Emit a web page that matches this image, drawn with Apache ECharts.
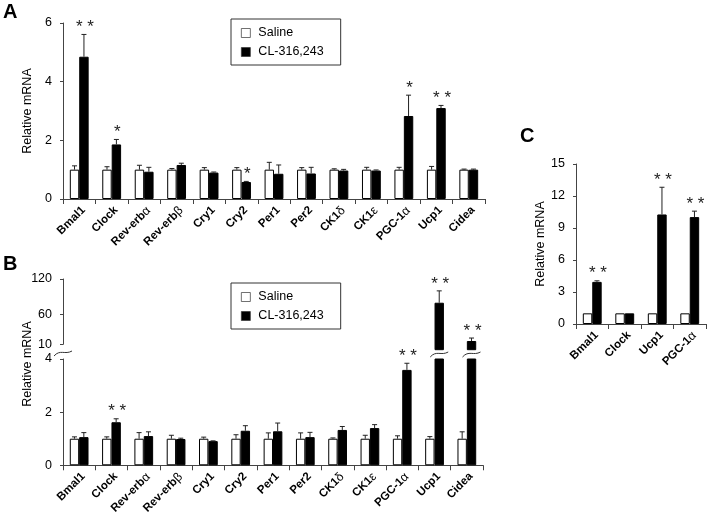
<!DOCTYPE html>
<html><head><meta charset="utf-8">
<script src="https://cdn.jsdelivr.net/npm/echarts@6/dist/echarts.min.js"></script>
<style>html,body{margin:0;padding:0;background:#fff}#c{width:711px;height:517px}</style>
</head><body><div id="c"></div>
<script>
// ---------- data ----------
const categoriesAB = ['Bmal1','Clock','Rev-erbα','Rev-erbβ','Cry1','Cry2','Per1','Per2','CK1δ','CK1ε','PGC-1α','Ucp1','Cidea'];
const seriesNames = ['Saline','CL-316,243'];

const salineA    = [1,1,1,1,1,1,1,1,1,1,1,1,1];
const salineErrA = [0.13,0.10,0.15,0.04,0.07,0.07,0.25,0.07,0.03,0.08,0.08,0.11,0.02];
const clA        = [4.85,1.86,0.93,1.16,0.90,0.58,0.86,0.87,0.97,0.97,2.83,3.10,1.00];
const clErrA     = [0.76,0.17,0.15,0.06,0.02,0.02,0.30,0.21,0.04,0.02,0.71,0.09,0.02];
const sigA       = ['**','*','','','','*','','','','','*','**',''];
const yTicksA    = {min:0, max:6, interval:2};

const salineB    = [1,1,1,1,1,1,1,1,1,1,1,1,1];
const salineErrB = [0.07,0.07,0.23,0.13,0.06,0.15,0.22,0.22,0.03,0.13,0.11,0.08,0.26];
const clB        = [1.06,1.62,1.10,0.99,0.91,1.30,1.28,1.06,1.33,1.40,3.59,80,15.5];
const clErrB     = [0.17,0.13,0.16,0.03,0.01,0.19,0.31,0.18,0.13,0.13,0.25,20,5];
const sigB       = ['','**','','','','','','','','','**','**','**'];
const yTicksBLow = {min:0, max:4, interval:2};
const yTicksBHigh = [10,60,120];
const yRangeBHigh = {min:0, max:120};

const categoriesC = ['Bmal1','Clock','Ucp1','PGC-1α'];
const salineC    = [1,1,1,1];
const salineErrC = [0,0,0,0];
const clC        = [3.95,1.00,10.27,10.02];
const clErrC     = [0.10,0,2.55,0.56];
const sigC       = ['**','','**','**'];
const yTicksC    = {min:0, max:15, interval:3};

// ---------- styling ----------
const FONT = 'Liberation Sans, Arial, sans-serif';
const AXIS_COLOR = '#444';
const GAP = 0.42;
const FS = 12.5;

function catLabel(fontSize){
  return {
    rotate:45, interval:0, margin:5, verticalAlign:'top', color:'#000', fontWeight:'bold', fontSize:fontSize, fontFamily:FONT,
    formatter: v => v.replace(/([αβδε])/g, '{g|$1}'),
    rich:{ g:{fontWeight:'normal', fontSize:fontSize+1, fontFamily:FONT, color:'#000', verticalAlign:'top'} }
  };
}
function xAxisCat(gridIndex, data, show){
  return {
    type:'category', gridIndex, data, show: show !== false,
    axisLine:{show:true, lineStyle:{color:AXIS_COLOR, width:1}},
    axisTick:{show:true, length:5, lineStyle:{color:AXIS_COLOR}},
    axisLabel: catLabel(11.5)
  };
}
function yAxisVal(gridIndex, rng, extra){
  return Object.assign({
    type:'value', gridIndex, min:rng.min, max:rng.max, interval:rng.interval,
    axisLine:{show:true, lineStyle:{color:AXIS_COLOR, width:1}},
    axisTick:{show:true, length:3, lineStyle:{color:AXIS_COLOR}},
    splitLine:{show:false},
    axisLabel:{color:'#000', fontSize:FS, margin:11, fontFamily:FONT},
    nameTextStyle:{color:'#000', fontSize:FS, fontFamily:FONT}
  }, extra || {});
}
function bars(xi, yi, sal, cl){
  return [
    {name:seriesNames[0], type:'bar', xAxisIndex:xi, yAxisIndex:yi, data:sal, barGap:0, barCategoryGap:(GAP*100)+'%',
     itemStyle:{color:'#fff', borderColor:'#000', borderWidth:1}, silent:true, clip:true},
    {name:seriesNames[1], type:'bar', xAxisIndex:xi, yAxisIndex:yi, data:cl, barGap:0, barCategoryGap:(GAP*100)+'%',
     itemStyle:{color:'#000', borderColor:'#000', borderWidth:1}, silent:true, clip:true}
  ];
}
function errSeries(xi, yi, m0, e0, m1, e1, sig, keep){
  const data = m0.map((m,i)=>[i, m, e0[i], m1[i], e1[i]]);
  return {
    type:'custom', xAxisIndex:xi, yAxisIndex:yi, silent:true, z:5, data,
    encode:{x:0, y:1},
    renderItem(params, api){
      const i = api.value(0);
      const bandW = api.size([1,0])[0];
      const bw = bandW*(1-GAP)/2;
      const cx = api.coord([i,0])[0];
      const children = [];
      [[1,2,-1],[3,4,1]].forEach(([mi,ei,side],k)=>{
        const m = api.value(mi), e = api.value(ei);
        if(!keep(m)) return;
        const x = cx + side*bw/2;
        const y0 = api.coord([i,m])[1], y1 = api.coord([i,m+e])[1];
        if(e>0){
          children.push({type:'line', shape:{x1:x,y1:y0,x2:x,y2:y1}, style:{stroke:'#222', lineWidth:1}});
          children.push({type:'line', shape:{x1:x-2.5,y1:y1,x2:x+2.5,y2:y1}, style:{stroke:'#222', lineWidth:1}});
        }
        if(k===1 && sig[i]){
          children.push({type:'text', x:x+1, y:y1-7, style:{text:sig[i].split('').join(' '), align:'center', verticalAlign:'middle',
            textAlign:'center', textVerticalAlign:'middle', font:'17px '+FONT, fill:'#222'}});
        }
      });
      return {type:'group', children};
    }
  };
}
function squiggle(cx, cy){
  return {type:'bezierCurve', shape:{x1:cx-9,y1:cy+2.5,cpx1:cx-3,cpy1:cy-4.5,cpx2:cx+2,cpy2:cy+1.5,x2:cx+9,y2:cy-2.5},
          style:{stroke:'#333', lineWidth:1, fill:null}};
}

const lowMax = yTicksBLow.max;
const inLow = v => v <= lowMax;
const inHigh = v => v > lowMax;

const option = {
  animation:false,
  textStyle:{fontFamily:FONT},
  grid:[
    {left:63, top:23, width:422, height:176},      // A
    {left:63, top:359, width:420, height:108.3},   // B lower
    {left:63, top:279, width:420, height:71.2},    // B upper (bars)
    {left:63, top:279, width:420, height:65.3},    // B upper (visible axis 10-120)
    {left:576, top:164, width:130, height:160}     // C
  ],
  xAxis:[
    xAxisCat(0, categoriesAB),
    xAxisCat(1, categoriesAB),
    xAxisCat(2, categoriesAB, false),
    xAxisCat(3, categoriesAB, false),
    xAxisCat(4, categoriesC)
  ],
  yAxis:[
    yAxisVal(0, yTicksA, {name:'Relative mRNA', nameLocation:'middle', nameGap:28}),
    yAxisVal(1, yTicksBLow),
    yAxisVal(2, yRangeBHigh, {show:false}),
    yAxisVal(3, {min:yTicksBHigh[0], max:yTicksBHigh[yTicksBHigh.length-1]}, {
      axisLabel:{color:'#000', fontSize:FS, margin:11, fontFamily:FONT, customValues:yTicksBHigh},
      axisTick:{show:true, length:3, lineStyle:{color:AXIS_COLOR}, customValues:yTicksBHigh}
    }),
    yAxisVal(4, yTicksC, {name:'Relative mRNA', nameLocation:'middle', nameGap:21})
  ],
  legend:[0,1].map(k=>({
    data:seriesNames, orient:'vertical', left:231, top: k===0 ? 19 : 283,
    padding:[7,17,6,10], itemWidth:9, itemHeight:9, itemGap:5, icon:'rect',
    itemStyle:{borderWidth:0.7, borderColor:'#333'},
    borderColor:'#333', borderWidth:1, selectedMode:false,
    textStyle:{fontSize:FS, color:'#000', lineHeight:14, fontFamily:FONT, padding:[0,0,0,3]}
  })),
  graphic:[
    {type:'text', x:3, y:12, style:{text:'A', font:'bold 20px '+FONT, fill:'#000', align:'left', verticalAlign:'middle', textAlign:'left', textVerticalAlign:'middle'}},
    {type:'text', x:3, y:264, style:{text:'B', font:'bold 20px '+FONT, fill:'#000', align:'left', verticalAlign:'middle', textAlign:'left', textVerticalAlign:'middle'}},
    {type:'text', x:520, y:136, style:{text:'C', font:'bold 20px '+FONT, fill:'#000', align:'left', verticalAlign:'middle', textAlign:'left', textVerticalAlign:'middle'}},
    {type:'text', x:28, y:364, rotation:Math.PI/2, style:{text:'Relative mRNA', font:FS+'px '+FONT, fill:'#000', align:'center', verticalAlign:'middle', textAlign:'center', textVerticalAlign:'middle'}}
  ],
  series:[
    ...bars(0,0,salineA,clA),
    errSeries(0,0,salineA,salineErrA,clA,clErrA,sigA,()=>true),
    ...bars(1,1,salineB,clB),
    errSeries(1,1,salineB,salineErrB,clB,clErrB,sigB,inLow),
    ...bars(2,2,salineB.map(v=>inHigh(v)?v:'-'), clB.map(v=>inHigh(v)?v:'-')),
    errSeries(2,2,salineB,salineErrB,clB,clErrB,sigB,inHigh),
    { // break marks on bars that exceed the lower segment
      type:'custom', xAxisIndex:1, yAxisIndex:1, silent:true, z:6,
      data: clB.map((v,i)=>[i,v]), encode:{x:0,y:1},
      renderItem(params, api){
        const i = api.value(0), v = api.value(1);
        if(!inHigh(v)) return null;
        const bw = api.size([1,0])[0]*(1-GAP)/2;
        const x = api.coord([i,0])[0] + bw/2;
        return squiggle(x, params.coordSys.y - 4.5);
      }
    },
    { // break mark on the y axis
      type:'custom', xAxisIndex:1, yAxisIndex:1, silent:true, z:6,
      data:[[0,0]], encode:{x:0,y:1},
      renderItem(params){
        return squiggle(params.coordSys.x, params.coordSys.y - 5.5);
      }
    },
    ...bars(4,4,salineC,clC),
    errSeries(4,4,salineC,salineErrC,clC,clErrC,sigC,()=>true)
  ]
};
const chart = echarts.init(document.getElementById('c'), null, {renderer:'canvas'});
chart.setOption(option);
</script>
</body></html>
